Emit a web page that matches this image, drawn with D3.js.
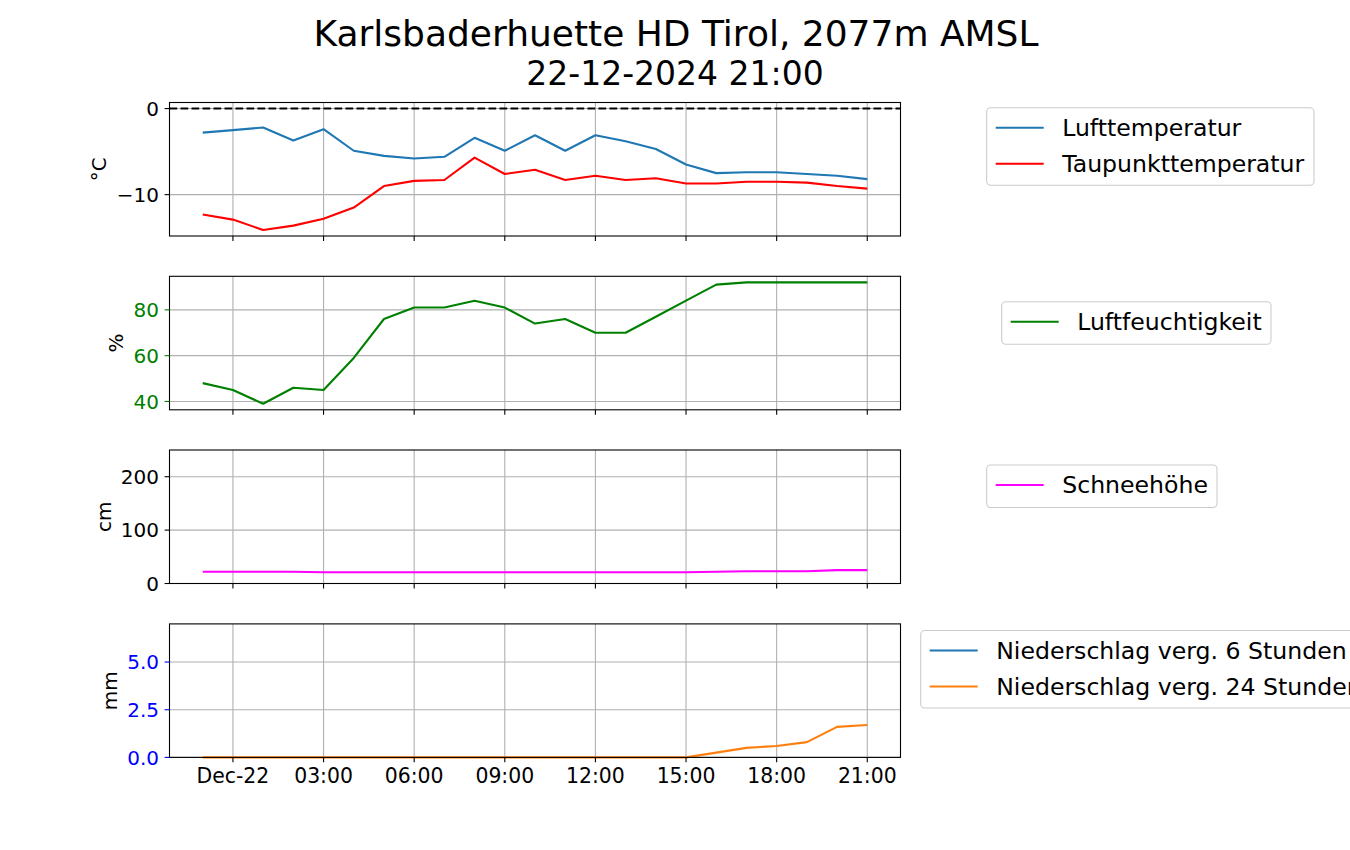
<!DOCTYPE html>
<html>
<head>
<meta charset="utf-8">
<script src="https://cdn.jsdelivr.net/npm/d3@7"></script>
<style>
  html, body { margin: 0; padding: 0; background: #fff; }
  svg { display: block; font-family: "DejaVu Sans", sans-serif; }
</style>
</head>
<body>
<svg id="chart" width="1350" height="850"></svg>
<script>
// ---------------- data ----------------
const times = [
  "2024-12-21 23:00", "2024-12-22 00:00", "2024-12-22 01:00", "2024-12-22 02:00",
  "2024-12-22 03:00", "2024-12-22 04:00", "2024-12-22 05:00", "2024-12-22 06:00",
  "2024-12-22 07:00", "2024-12-22 08:00", "2024-12-22 09:00", "2024-12-22 10:00",
  "2024-12-22 11:00", "2024-12-22 12:00", "2024-12-22 13:00", "2024-12-22 14:00",
  "2024-12-22 15:00", "2024-12-22 16:00", "2024-12-22 17:00", "2024-12-22 18:00",
  "2024-12-22 19:00", "2024-12-22 20:00", "2024-12-22 21:00"
];
const lufttemperatur = [-2.8, -2.5, -2.2, -3.7, -2.4, -4.9, -5.5, -5.8, -5.6, -3.4, -4.9, -3.1,
  -4.9, -3.1, -3.8, -4.7, -6.5, -7.5, -7.4, -7.4, -7.6, -7.8, -8.2];
const taupunkttemperatur = [-12.3, -12.9, -14.1, -13.6, -12.8, -11.5, -9.0, -8.4, -8.3, -5.7, -7.6, -7.1,
  -8.3, -7.8, -8.3, -8.1, -8.7, -8.7, -8.5, -8.5, -8.6, -9.0, -9.3];
const luftfeuchtigkeit = [48, 45, 39, 46, 45, 59, 76, 81, 81, 84, 81, 74,
  76, 70, 70, 77, 84, 91, 92, 92, 92, 92, 92];
const schneehoehe = [22, 22, 22, 22, 21, 21, 21, 21, 21, 21, 21, 21,
  21, 21, 21, 21, 21, 22, 23, 23, 23, 25, 25];
const niederschlag6h = [null, null, null, null, null, null, null, null, null, null, null, null,
  null, null, null, null, null, null, null, null, null, null, null];
const niederschlag24h = [0, 0, 0, 0, 0, 0, 0, 0, 0, 0, 0, 0,
  0, 0, 0, 0, 0, 0.25, 0.5, 0.6, 0.8, 1.6, 1.7];

const titleLines = ["Karlsbaderhuette HD Tirol, 2077m AMSL", "22-12-2024 21:00"];
const yTicks1 = [-10, 0];
const yTicks2 = [40, 60, 80];
const yTicks3 = [0, 100, 200];
const yTicks4 = [0, 2.5, 5.0];
const yLabels = ["°C", "%", "cm", "mm"];
const legend1 = ["Lufttemperatur", "Taupunkttemperatur"];
const legend2 = ["Luftfeuchtigkeit"];
const legend3 = ["Schneehöhe"];
const legend4 = ["Niederschlag verg. 6 Stunden", "Niederschlag verg. 24 Stunden"];

// ---------------- layout ----------------
const svg = d3.select("#chart");
const parse = d3.timeParse("%Y-%m-%d %H:%M");
const T = times.map(parse);
const left = 169.5, right = 900.5;
const tops = [102.5, 276.3, 450, 623.9];
const ph = 133.5;
const span = T[T.length - 1] - T[0];
const x = d3.scaleTime()
  .domain([new Date(+T[0] - span * 0.05), new Date(+T[T.length - 1] + span * 0.05)])
  .range([left, right]);
const xTicks = d3.timeHour.every(3).range(d3.timeHour.ceil(x.domain()[0]), x.domain()[1]);
const fmtX = d => (d.getHours() === 0 ? d3.timeFormat("%b-%d")(d) : d3.timeFormat("%H:%M")(d));

function autoDomain(arrs) {
  const all = arrs.flat().filter(v => v != null);
  const mn = d3.min(all), mx = d3.max(all);
  const m = (mx - mn) * 0.05;
  return [mn - m, mx + m];
}

const minus = s => s.replace("-", "\u2212");
const panels = [
  { domain: autoDomain([lufttemperatur, taupunkttemperatur, [0]]), ticks: yTicks1, fmt: d => minus(String(d)), tickColor: "#000",
    series: [{ v: lufttemperatur, c: "#1f77b4" }, { v: taupunkttemperatur, c: "#ff0000" }], label: yLabels[0], labelX: 99 },
  { domain: autoDomain([luftfeuchtigkeit]), ticks: yTicks2, fmt: d => String(d), tickColor: "#008000",
    series: [{ v: luftfeuchtigkeit, c: "#008000" }], label: yLabels[1], labelX: 116 },
  { domain: [0, 250], ticks: yTicks3, fmt: d => String(d), tickColor: "#000",
    series: [{ v: schneehoehe, c: "#ff00ff" }], label: yLabels[2], labelX: 104 },
  { domain: [0, 7], ticks: yTicks4, fmt: d => d.toFixed(1), tickColor: "#0000ff",
    series: [{ v: niederschlag6h, c: "#1f77b4" }, { v: niederschlag24h, c: "#ff7f0e" }], label: yLabels[3], labelX: 110 }
];

panels.forEach((p, i) => {
  const top = tops[i], bottom = top + ph;
  const y = d3.scaleLinear().domain(p.domain).range([bottom, top]);
  const g = svg.append("g");

  // grid
  g.selectAll(".gx").data(xTicks).enter().append("line")
    .attr("x1", d => x(d)).attr("x2", d => x(d)).attr("y1", top).attr("y2", bottom)
    .attr("stroke", "#b0b0b0").attr("stroke-width", 1.1);
  g.selectAll(".gy").data(p.ticks).enter().append("line")
    .attr("x1", left).attr("x2", right).attr("y1", d => y(d)).attr("y2", d => y(d))
    .attr("stroke", "#b0b0b0").attr("stroke-width", 1.1);

  // zero reference line in the temperature panel
  if (i === 0) {
    g.append("line").attr("x1", left).attr("x2", right).attr("y1", y(0)).attr("y2", y(0))
      .attr("stroke", "#000").attr("stroke-width", 2).attr("stroke-dasharray", "7.7,3.3");
  }

  // series
  const line = d3.line().defined(d => d[1] != null).x(d => x(d[0])).y(d => y(d[1]));
  p.series.forEach(s => {
    g.append("path").datum(T.map((t, k) => [t, s.v[k]]))
      .attr("d", line).attr("fill", "none").attr("stroke", s.c)
      .attr("stroke-width", 2.1).attr("stroke-linejoin", "round").attr("stroke-linecap", "butt");
  });

  // frame
  g.append("rect").attr("x", left).attr("y", top).attr("width", right - left).attr("height", ph)
    .attr("fill", "none").attr("stroke", "#000").attr("stroke-width", 1.1);

  // x ticks
  g.selectAll(".tx").data(xTicks).enter().append("line")
    .attr("x1", d => x(d)).attr("x2", d => x(d)).attr("y1", bottom).attr("y2", bottom + 4.9)
    .attr("stroke", "#000").attr("stroke-width", 1.1);
  if (i === 3) {
    g.selectAll(".lx").data(xTicks).enter().append("text")
      .attr("x", d => x(d)).attr("y", bottom + 9.8).attr("dy", "0.76em")
      .attr("text-anchor", "middle").attr("font-size", 20.4).attr("fill", "#000")
      .text(fmtX);
  }

  // y ticks
  g.selectAll(".ty").data(p.ticks).enter().append("line")
    .attr("x1", left - 4.9).attr("x2", left).attr("y1", d => y(d)).attr("y2", d => y(d))
    .attr("stroke", p.tickColor).attr("stroke-width", 1.1);
  g.selectAll(".ly").data(p.ticks).enter().append("text")
    .attr("x", left - 10.5).attr("y", d => y(d)).attr("dy", "0.36em")
    .attr("text-anchor", "end").attr("font-size", 20).attr("fill", p.tickColor)
    .text(p.fmt);

  // y label
  g.append("text")
    .attr("transform", `translate(${p.labelX},${top + ph / 2}) rotate(-90)`)
    .attr("text-anchor", "middle").attr("dy", "0.36em").attr("font-size", 20).attr("fill", "#000")
    .text(p.label);
});

// ---------------- legends ----------------
function legend(x0, y0, w, items, colors) {
  const rowH = 36, pad = 20;
  const h = items.length === 1 ? 42.5 : 77.5;
  const g = svg.append("g");
  g.append("rect").attr("x", x0).attr("y", y0).attr("width", w).attr("height", h)
    .attr("rx", 4).attr("fill", "#fff").attr("fill-opacity", 0.8)
    .attr("stroke", "#cccccc").attr("stroke-width", 1.1);
  items.forEach((t, k) => {
    const cy = y0 + pad + k * rowH;
    g.append("line").attr("x1", x0 + 9).attr("x2", x0 + 57).attr("y1", cy).attr("y2", cy)
      .attr("stroke", colors[k]).attr("stroke-width", 2.1);
    g.append("text").attr("x", x0 + 75.5).attr("y", cy).attr("dy", "0.36em")
      .attr("font-size", 23.6).attr("fill", "#000").text(t);
  });
}
legend(986.7, 107.7, 327.3, legend1, ["#1f77b4", "#ff0000"]);
legend(1001.7, 301.7, 269.3, legend2, ["#008000"]);
legend(986.7, 465, 230.3, legend3, ["#ff00ff"]);
legend(920.7, 630.5, 440, legend4, ["#1f77b4", "#ff7f0e"]);

// ---------------- title ----------------
svg.append("text").attr("x", 676).attr("y", 46).attr("text-anchor", "middle")
  .attr("font-size", 36).attr("fill", "#000").text(titleLines[0]);
svg.append("text").attr("x", 675).attr("y", 85).attr("text-anchor", "middle")
  .attr("font-size", 33).attr("fill", "#000").text(titleLines[1]);
</script>
</body>
</html>
